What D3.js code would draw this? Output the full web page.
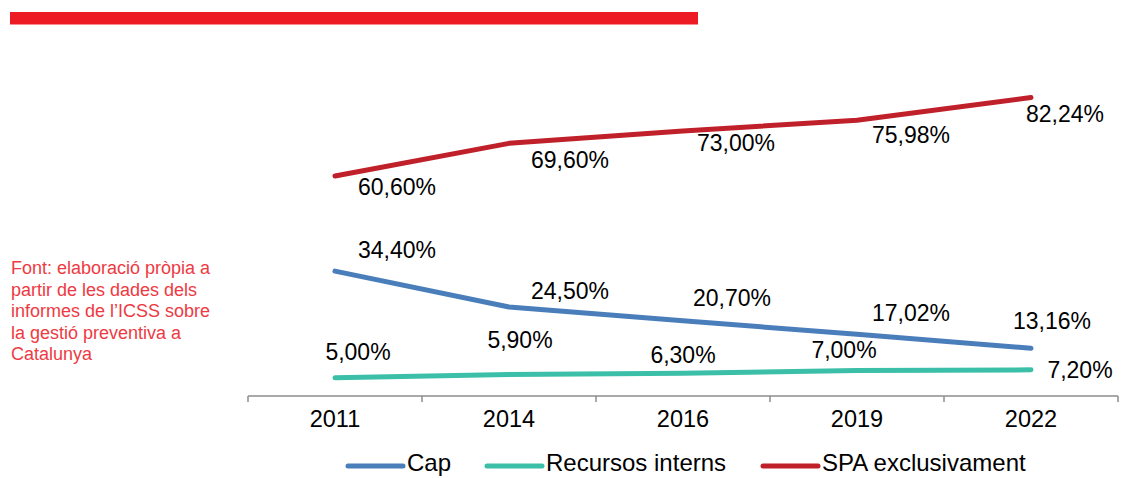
<!DOCTYPE html>
<html>
<head>
<meta charset="utf-8">
<script src="https://cdn.jsdelivr.net/npm/d3@7"></script>
<style>
  body { margin: 0; background: #fff; }
  text { font-family: "Liberation Sans", Arial, Helvetica, sans-serif; }
</style>
</head>
<body>
<div id="chart"></div>
<script>
// data
const years = ["2011", "2014", "2016", "2019", "2022"];
const cap = [34.40, 24.50, 20.70, 17.02, 13.16];
const recursos = [5.00, 5.90, 6.30, 7.00, 7.20];
const spa = [60.60, 69.60, 73.00, 75.98, 82.24];
const seriesNames = ["Cap", "Recursos interns", "SPA exclusivament"];
const sourceLines = [
    "Font: elaboració pròpia a",
    "partir de les dades dels",
    "informes de l’ICSS sobre",
    "la gestió preventiva a",
    "Catalunya"
];

// label placement (dx to label centre, dy to baseline), like the manual excel labels
const labelOffsets = {
    cap: [[62, -13], [61, -8], [49, -15], [54, -13], [21, -19]],
    recursos: [[23, -18], [11, -27], [0, -10], [-13, -13], [49, 8]],
    spa: [[62, 19], [61, 25], [53, 20], [54, 23], [34, 25]]
};

const width = 1133, height = 478;
const fmt = v => v.toFixed(2).replace(".", ",") + "%";

const svg = d3.select("#chart").append("svg")
    .attr("width", width)
    .attr("height", height);

// red header bar
svg.append("rect")
    .attr("x", 10).attr("y", 12)
    .attr("width", 688).attr("height", 12.5)
    .attr("fill", "#ED1C24");

// scales
let x = d3.scaleBand().domain(years).range([248, 1118]);
let y = d3.scaleLinear().domain([0, 100]).range([396, 33]);
let cx = d => x(d) + x.bandwidth() / 2;

// axis
let axisG = svg.append("g").attr("class", "x-axis");
axisG.append("line")
    .attr("x1", x.range()[0]).attr("x2", x.range()[1])
    .attr("y1", 396).attr("y2", 396)
    .attr("stroke", "#8c8c8c").attr("stroke-width", 1.5);

let edges = years.map(d => x(d)).concat([x.range()[1]]);
axisG.selectAll(".tick-mark").data(edges).enter().append("line")
    .attr("class", "tick-mark")
    .attr("x1", d => d).attr("x2", d => d)
    .attr("y1", 396).attr("y2", 402)
    .attr("stroke", "#8c8c8c").attr("stroke-width", 1.5);

axisG.selectAll(".tick-label").data(years).enter().append("text")
    .attr("class", "tick-label")
    .attr("x", d => cx(d))
    .attr("y", 427)
    .attr("text-anchor", "middle")
    .attr("font-size", 23.5)
    .attr("fill", "#000")
    .text(d => d);

// lines
const series = [
    {key: "cap", values: cap, color: "#4A7EBB"},
    {key: "recursos", values: recursos, color: "#3CBFA8"},
    {key: "spa", values: spa, color: "#C0202A"}
];

let line = d3.line()
    .x((d, i) => cx(years[i]))
    .y(d => y(d));

series.forEach(s => {
    svg.append("path")
        .datum(s.values)
        .attr("d", line)
        .attr("fill", "none")
        .attr("stroke", s.color)
        .attr("stroke-width", 5)
        .attr("stroke-linecap", "round")
        .attr("stroke-linejoin", "round");

    svg.selectAll(".lbl-" + s.key).data(s.values).enter().append("text")
        .attr("class", "lbl-" + s.key)
        .attr("x", (d, i) => cx(years[i]) + labelOffsets[s.key][i][0])
        .attr("y", (d, i) => y(d) + labelOffsets[s.key][i][1])
        .attr("text-anchor", "middle")
        .attr("font-size", 23)
        .attr("fill", "#000")
        .text(d => fmt(d));
});

// source note
svg.append("text")
    .attr("x", 11).attr("y", 274)
    .attr("font-size", 18)
    .attr("fill", "#EE3A43")
    .selectAll("tspan").data(sourceLines).enter().append("tspan")
    .attr("x", 11)
    .attr("dy", (d, i) => i === 0 ? 0 : 21.5)
    .text(d => d);

// legend (kept just inside the bottom edge)
const legendX = [348, 487, 763];
let legend = svg.append("g").attr("class", "legend");
series.forEach((s, i) => {
    legend.append("line")
        .attr("x1", legendX[i]).attr("x2", legendX[i] + 55)
        .attr("y1", 466).attr("y2", 466)
        .attr("stroke", s.color)
        .attr("stroke-width", 5)
        .attr("stroke-linecap", "round");
    legend.append("text")
        .attr("x", legendX[i] + 59)
        .attr("y", 471)
        .attr("font-size", 24)
        .attr("fill", "#000")
        .text(seriesNames[i]);
});
</script>
</body>
</html>
